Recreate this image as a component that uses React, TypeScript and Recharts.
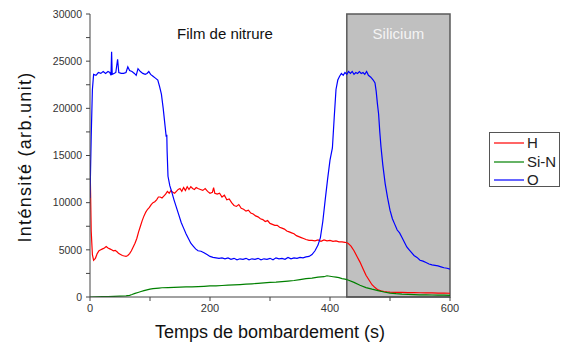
import React from 'react';
import { LineChart, Line, XAxis, YAxis, ReferenceArea, Legend } from 'recharts';

// Time (s) / intensity pairs
const hSeries: [number, number][] = [
  [0,14500],[1,11000],[2,7000],[4,4500],[6,3900],[9,4100],[12,4600],[15,4900],[18,5000],[21,5100],[24,5200],[27,5350],[30,5200],[33,5100],[36,5000],[39,4900],[42,4950],[45,4800],[48,4600],[51,4500],[54,4400],[57,4350],[60,4300],[63,4400],[66,4600],[69,4900],[72,5300],[75,5700],[78,6200],[81,6900],[84,7500],[87,8100],[90,8600],[93,9000],[96,9300],[99,9500],[102,9800],[105,10000],[108,10100],[111,10300],[114,10600],[117,10600],[120,10500],[123,10700],[126,10900],[129,11200],[132,11000],[135,11300],[138,11100],[141,11000],[144,11200],[147,11400],[150,11500],[153,11200],[156,11600],[159,11300],[162,11700],[165,11400],[168,11700],[171,11500],[174,11400],[177,11600],[180,11500],[184,11400],[188,11300],[192,11500],[196,11200],[200,11000],[204,11100],[206,11600],[208,11000],[212,10900],[216,11000],[220,10600],[224,10800],[228,10300],[232,10400],[236,10000],[240,9700],[244,9600],[248,9800],[252,9400],[256,9300],[260,9100],[264,9200],[268,8900],[272,8800],[276,8600],[280,8500],[284,8300],[288,8200],[292,8000],[296,8100],[300,7800],[304,7700],[308,7600],[312,7600],[316,7400],[320,7300],[324,7200],[328,7000],[332,6900],[336,6800],[340,6700],[344,6500],[348,6400],[352,6300],[356,6200],[360,6100],[365,6000],[370,6000],[375,5950],[380,6050],[385,5900],[390,6050],[395,5950],[400,6000],[405,5900],[410,5950],[415,5850],[420,5850],[425,5800],[430,5700],[435,5400],[440,4900],[445,4300],[450,3700],[455,3000],[460,2300],[465,1800],[470,1300],[475,1000],[480,750],[485,650],[490,580],[495,540],[500,520],[510,500],[520,480],[530,470],[540,460],[550,450],[560,440],[570,430],[580,420],[590,410],[600,400]
];

const siNSeries: [number, number][] = [
  [0,0],[10,20],[20,40],[30,50],[40,70],[50,90],[60,120],[66,180],[70,260],[75,380],[80,480],[85,580],[90,680],[95,760],[100,830],[105,880],[110,920],[115,950],[120,980],[130,1000],[140,1030],[150,1050],[160,1070],[170,1080],[180,1100],[190,1130],[200,1170],[210,1180],[220,1220],[230,1250],[240,1280],[250,1320],[260,1360],[270,1400],[280,1450],[290,1500],[300,1540],[310,1570],[320,1620],[330,1680],[340,1750],[350,1850],[360,1950],[370,2000],[380,2100],[390,2150],[395,2250],[400,2200],[405,2150],[410,2100],[415,2050],[420,1950],[425,1900],[430,1800],[440,1550],[450,1250],[460,1000],[470,830],[480,680],[490,530],[500,420],[510,350],[520,300],[530,270],[540,250],[550,230],[560,220],[570,210],[580,200],[590,190],[600,180]
];

const oSeries: [number, number][] = [
  [0,10500],[2,17000],[4,22000],[6,23600],[10,23500],[14,23800],[18,23700],[22,23900],[26,23700],[30,23900],[33,23800],[35,23500],[36,26000],[37,23600],[40,23700],[43,23800],[46,25200],[48,23800],[52,23700],[56,23700],[60,23800],[63,24400],[66,24000],[70,23900],[74,23700],[77,23500],[80,24200],[84,23900],[88,23700],[92,23600],[95,23700],[98,23900],[101,23600],[105,23400],[109,23200],[113,23000],[116,22300],[119,21500],[122,20000],[125,18200],[127,17000],[128,17200],[128.5,15500],[130,12800],[133,11800],[136,11200],[140,10300],[144,9500],[148,8700],[152,7900],[156,7300],[160,6700],[164,6200],[168,5700],[172,5400],[176,5100],[180,4900],[185,4850],[190,4700],[195,4500],[200,4300],[205,4200],[210,4150],[215,4100],[220,4150],[225,4050],[230,4150],[235,4000],[240,4100],[245,3950],[250,4050],[255,4000],[260,4100],[265,3950],[270,4050],[275,4000],[280,4100],[285,3950],[290,4050],[295,4000],[300,4100],[305,3950],[310,4150],[315,4050],[320,4100],[325,4000],[330,4200],[335,4050],[340,4150],[345,4100],[350,4200],[355,4150],[360,4250],[365,4300],[370,4500],[375,4900],[380,5500],[384,6300],[388,8000],[392,10300],[396,12500],[400,14500],[404,15800],[407,19000],[410,22000],[413,23000],[416,23400],[419,23700],[422,23500],[425,23800],[428,23600],[431,23900],[434,23700],[437,23900],[440,23600],[443,23800],[446,23700],[449,23900],[452,23700],[455,23800],[458,23600],[461,23900],[464,23500],[468,23300],[472,23000],[475,22700],[477,21800],[479,20500],[481,19400],[483,17500],[485,15900],[488,14000],[492,12000],[496,10500],[500,9200],[504,8300],[508,7700],[512,7100],[516,6800],[520,6300],[524,5800],[528,5300],[532,5000],[536,4700],[540,4400],[545,4200],[550,3900],[555,3800],[560,3650],[565,3500],[570,3400],[575,3350],[580,3300],[585,3200],[590,3100],[595,3050],[600,2950]
];

const seriesNames = ['H', 'Si-N', 'O'];
const xTicks = [0, 100, 200, 300, 400, 500, 600];
const xLabelTicks = [0, 200, 400, 600];
const yTicks = [0, 2500, 5000, 7500, 10000, 12500, 15000, 17500, 20000, 22500, 25000, 27500, 30000];
const yLabelTicks = [0, 5000, 10000, 15000, 20000, 25000, 30000];
const siliconRange = [428, 600];
const filmLabelRange = [20, 430];

const toRows = (s: [number, number][]) => s.map(([t, v]) => ({ t, v }));
const hData = toRows(hSeries);
const siNData = toRows(siNSeries);
const oData = toRows(oSeries);

const FONT = '"Liberation Sans", Arial, sans-serif';
const AXIS = '#444';

const LegendBox = (props: any) => {
  const payload = [...(props.payload || [])].sort(
    (a: any, b: any) => seriesNames.indexOf(a.value) - seriesNames.indexOf(b.value)
  );
  return (
    <div style={{ border: '1px solid #555', background: '#fff', width: 71, height: 55, boxSizing: 'border-box', paddingTop: 1, fontFamily: FONT }}>
      {payload.map((e: any) => (
        <div key={e.value} style={{ display: 'flex', alignItems: 'center', height: 18.5, whiteSpace: 'nowrap' }}>
          <svg width={33} height={10} style={{ marginLeft: 4, flex: 'none' }}>
            <line x1={0} x2={30} y1={5} y2={5} stroke={e.color} strokeWidth={1.2} />
          </svg>
          <span style={{ fontSize: 15, color: '#222', lineHeight: '18px' }}>{e.value}</span>
        </div>
      ))}
    </div>
  );
};

export default function App() {
  return (
    <div style={{ position: 'absolute', left: 0, top: 0, background: '#fff' }}>
      <LineChart width={566} height={343} margin={{ top: 14, right: 116, bottom: 16, left: 30 }} style={{ fontFamily: FONT }}>
        <ReferenceArea x1={siliconRange[0]} x2={siliconRange[1]} y1={0} y2={30000} fill="#c0c0c0" fillOpacity={1} stroke="#5a5a5a" strokeWidth={1.5}
          label={{ value: 'Silicium', position: 'insideTop', offset: 14, fill: '#f4f4f4', fontSize: 15, fontFamily: FONT }} />
        <ReferenceArea x1={filmLabelRange[0]} x2={filmLabelRange[1]} y1={0} y2={30000} fill="none" fillOpacity={0} stroke="none"
          label={{ value: 'Film de nitrure', position: 'insideTop', offset: 14, fill: '#111', fontSize: 15, fontFamily: FONT }} />
        <XAxis dataKey="t" type="number" domain={[0, 600]} ticks={xTicks} interval={0} allowDataOverflow
          height={30} tickSize={4} tickMargin={3} stroke={AXIS}
          tick={{ fill: '#333', fontSize: 11, fontFamily: FONT }}
          tickFormatter={(v: number) => (xLabelTicks.includes(v) ? String(v) : '')}
          label={{ content: () => (
            <text x={270} y={338} textAnchor="middle" fontSize={18} fontFamily={FONT} fill="#111">Temps de bombardement (s)</text>
          ) }} />
        <XAxis xAxisId="top" orientation="top" type="number" domain={[0, 600]} ticks={xTicks} interval={0}
          height={0} tickSize={4} mirror stroke={AXIS} tickFormatter={() => ''} />
        <YAxis type="number" domain={[0, 30000]} ticks={yTicks} interval={0} allowDataOverflow
          width={60} tickSize={4} tickMargin={4} stroke={AXIS}
          tick={{ fill: '#333', fontSize: 10.5, fontFamily: FONT }}
          tickFormatter={(v: number) => (yLabelTicks.includes(v) ? String(v) : '')}
          label={{ content: () => (
            <text x={25} y={157} transform="rotate(-90 25 157)" textAnchor="middle" dominantBaseline="central" fontSize={18} letterSpacing={1.3} fontFamily={FONT} fill="#111">Inténsité (arb.unit)</text>
          ) }} />
        <YAxis yAxisId="right" orientation="right" type="number" domain={[0, 30000]} ticks={yTicks} interval={0}
          width={0} tickSize={3} stroke={AXIS} tickFormatter={() => ''} />
        <Legend layout="vertical" align="center" verticalAlign="middle" content={LegendBox}
          wrapperStyle={{ left: 489, top: 132, width: 71, height: 55 }} />
        <Line data={hData} dataKey="v" name="H" stroke="#ff0000" strokeWidth={1.2} dot={false} isAnimationActive={false} />
        <Line data={siNData} dataKey="v" name="Si-N" stroke="#008000" strokeWidth={1.2} dot={false} isAnimationActive={false} />
        <Line data={oData} dataKey="v" name="O" stroke="#0000ff" strokeWidth={1.2} dot={false} isAnimationActive={false} />
      </LineChart>
    </div>
  );
}
